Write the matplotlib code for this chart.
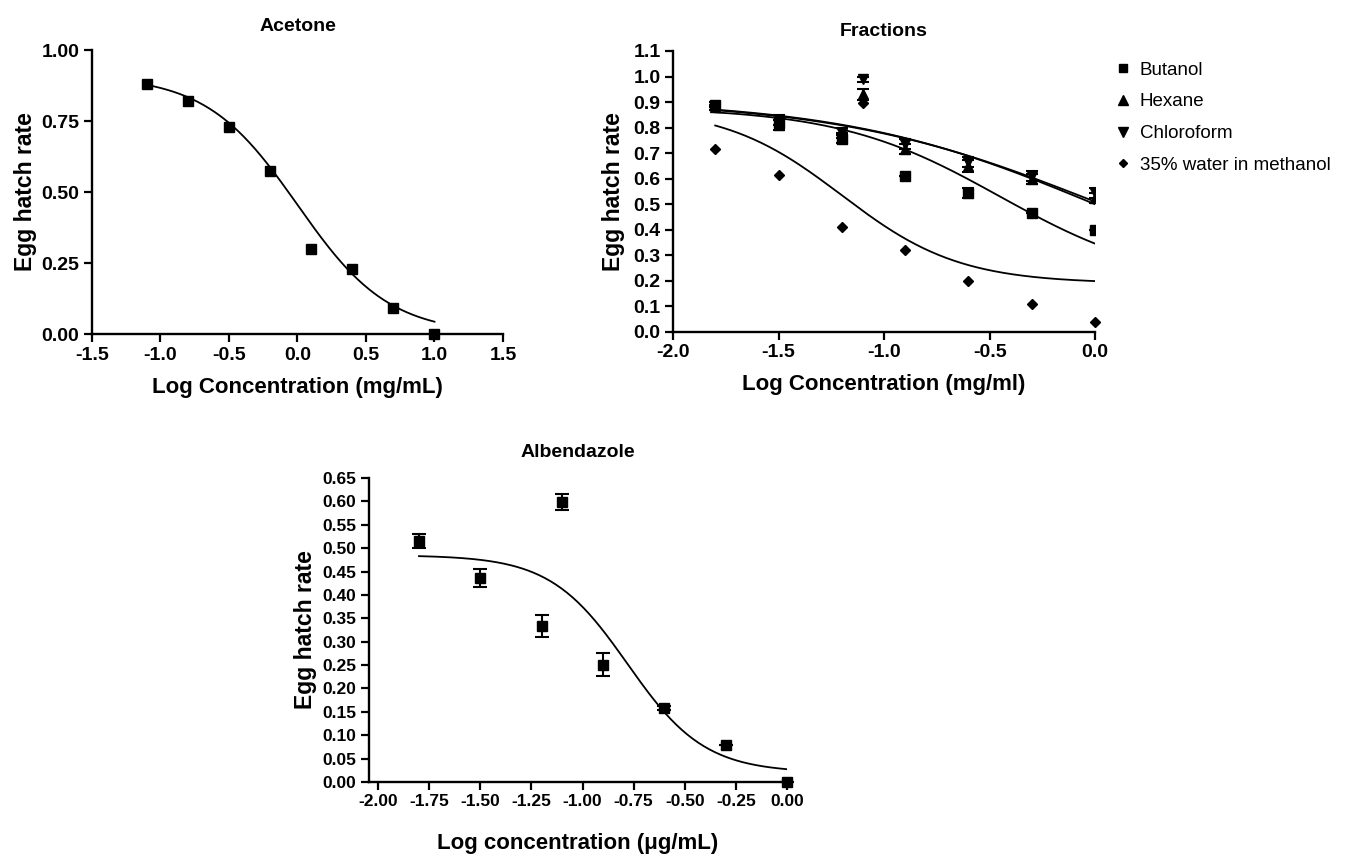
import numpy as np
import matplotlib
matplotlib.use("Agg")
import matplotlib.pyplot as plt
from matplotlib.lines import Line2D

plt.rcParams['font.family'] = ['Liberation Sans', 'DejaVu Sans']
plt.rcParams['axes.unicode_minus'] = False

# ──────────── Datos ────────────
# Acetone
acet_x = [-1.1, -0.8, -0.5, -0.2, 0.1, 0.4, 0.7, 1.0]
acet_y = [0.88, 0.82, 0.73, 0.575, 0.30, 0.23, 0.09, 0.0]
acet_fit = [0.91, 0.0, 0.0, 1.3]          # top, bottom, logEC50, hill

# Fractions
but_x = [-1.8, -1.5, -1.2, -0.9, -0.6, -0.3, 0.0]
but_y = [0.89, 0.82, 0.755, 0.61, 0.545, 0.465, 0.40]
but_err = [0.01, 0.01, 0.015, 0.0, 0.02, 0.0, 0.0]
but_fit = [0.88, 0.18, -0.45, 1.13]

hex_x = [-1.8, -1.5, -1.2, -1.1, -0.9, -0.6, -0.3, 0.0]
hex_y = [0.88, 0.81, 0.76, 0.93, 0.715, 0.65, 0.60, 0.525]
hex_err = [0.01, 0.02, 0.02, 0.02, 0.02, 0.025, 0.02, 0.02]
hex_fit = [0.91, 0.09, 0.0, 0.72]

chl_x = [-1.8, -1.5, -1.2, -1.1, -0.9, -0.6, -0.3, 0.0]
chl_y = [0.88, 0.83, 0.78, 0.99, 0.735, 0.665, 0.61, 0.545]
chl_err = [0.01, 0.02, 0.02, 0.01, 0.02, 0.02, 0.02, 0.02]
chl_fit = [0.91, 0.11, 0.0, 0.70]

met_x = [-1.8, -1.5, -1.2, -1.1, -0.9, -0.6, -0.3, 0.0]
met_y = [0.717, 0.616, 0.41, 0.895, 0.32, 0.20, 0.11, 0.04]
met_fit = [0.88, 0.19, -1.2, 1.56]

# Albendazole
alb_x = [-1.8, -1.5, -1.2, -1.1, -0.9, -0.6, -0.3, 0.0]
alb_y = [0.515, 0.436, 0.333, 0.598, 0.251, 0.158, 0.08, 0.0]
alb_err = [0.015, 0.02, 0.024, 0.017, 0.024, 0.005, 0.0, 0.0]
alb_fit = [0.485, 0.02, -0.78, 2.3]


def logistic(x, top, bottom, logec50, hill):
    return bottom + (top - bottom) / (1 + 10 ** ((x - logec50) * hill))


def curva(ax, xs, params):
    xx = np.linspace(min(xs), max(xs), 200)
    ax.plot(xx, logistic(xx, *params), color='black', lw=1.3, zorder=2)


def estilo(ax, size=14):
    for s in ['top', 'right']:
        ax.spines[s].set_visible(False)
    for s in ['left', 'bottom']:
        ax.spines[s].set_linewidth(1.7)
    ax.tick_params(direction='out', length=6, width=1.6, labelsize=size, pad=3)
    for lab in ax.get_xticklabels() + ax.get_yticklabels():
        lab.set_fontweight('bold')


fig = plt.figure(figsize=(13.58, 8.6), dpi=100)

# ──────────── Acetone ────────────
ax1 = fig.add_axes([0.0677, 0.6116, 0.3027, 0.3302])
curva(ax1, acet_x, acet_fit)
ax1.plot(acet_x, acet_y, 's', color='black', ms=7.5, clip_on=False, zorder=3)
ax1.set_xlim(-1.5, 1.5)
ax1.set_ylim(0, 1.0)
ax1.set_xticks(np.arange(-1.5, 1.51, 0.5))
ax1.set_yticks([0, 0.25, 0.5, 0.75, 1.0])
ax1.set_yticklabels(['0.00', '0.25', '0.50', '0.75', '1.00'])
ax1.set_xticklabels(['-1.5', '-1.0', '-0.5', '0.0', '0.5', '1.0', '1.5'])
estilo(ax1)
ax1.set_title('Acetone', fontsize=14, fontweight='bold', pad=14)
ax1.set_xlabel('Log Concentration (mg/mL)', fontsize=16, fontweight='bold', labelpad=10)
ax1.set_ylabel('Egg hatch rate', fontsize=16.5, fontweight='bold', labelpad=3)

# ──────────── Fractions ────────────
ax2 = fig.add_axes([0.4956, 0.6140, 0.3108, 0.3267])
for xs, fit in [(but_x, but_fit), (hex_x, hex_fit), (chl_x, chl_fit), (met_x, met_fit)]:
    curva(ax2, xs, fit)
ax2.errorbar(met_x, met_y, fmt='D', color='black', ms=5.5, clip_on=False, zorder=3)
ax2.errorbar(hex_x, hex_y, yerr=hex_err, fmt='^', color='black', ms=7.5, capsize=4,
             elinewidth=1.5, capthick=1.5, zorder=3)
ax2.errorbar(chl_x, chl_y, yerr=chl_err, fmt='v', color='black', ms=7.5, capsize=4,
             elinewidth=1.5, capthick=1.5, zorder=3)
ax2.errorbar(but_x, but_y, yerr=but_err, fmt='s', color='black', ms=7, capsize=4,
             elinewidth=1.5, capthick=1.5, zorder=3)
ax2.set_xlim(-2.0, 0.0)
ax2.set_ylim(0, 1.1)
ax2.set_xticks(np.arange(-2.0, 0.01, 0.5))
ax2.set_xticklabels(['-2.0', '-1.5', '-1.0', '-0.5', '0.0'])
ax2.set_yticks(np.arange(0, 1.101, 0.1))
ax2.set_yticklabels([f'{v:.1f}' for v in np.arange(0, 1.101, 0.1)])
estilo(ax2)
ax2.set_title('Fractions', fontsize=14, fontweight='bold', pad=11)
ax2.set_xlabel('Log Concentration (mg/ml)', fontsize=16, fontweight='bold', labelpad=9)
ax2.set_ylabel('Egg hatch rate', fontsize=16.5, fontweight='bold', labelpad=6)

handles = [Line2D([], [], ls='none', marker='s', color='black', ms=6),
           Line2D([], [], ls='none', marker='^', color='black', ms=6.5),
           Line2D([], [], ls='none', marker='v', color='black', ms=6.5),
           Line2D([], [], ls='none', marker='D', color='black', ms=4.5)]
fig.legend(handles, ['Butanol', 'Hexane', 'Chloroform', '35% water in methanol'],
           loc='upper left', bbox_to_anchor=(0.809, 0.948), frameon=False,
           fontsize=13.5, handlelength=0.8, handletextpad=0.5, labelspacing=0.78)

# ──────────── Albendazole ────────────
ax3 = fig.add_axes([0.2718, 0.0907, 0.3077, 0.3535])
curva(ax3, alb_x, alb_fit)
ax3.errorbar(alb_x, alb_y, yerr=alb_err, fmt='s', color='black', ms=7.5, capsize=5,
             elinewidth=1.5, capthick=1.5, zorder=3, clip_on=False)
ax3.set_xlim(-2.044, 0.0)
ax3.set_ylim(0, 0.65)
ax3.set_xticks(np.arange(-2.0, 0.01, 0.25))
ax3.set_xticklabels([f'{v:.2f}' for v in np.arange(-2.0, 0.01, 0.25)])
ax3.set_yticks(np.arange(0, 0.651, 0.05))
ax3.set_yticklabels([f'{v:.2f}' for v in np.arange(0, 0.651, 0.05)])
estilo(ax3, size=12.5)
ax3.set_title('Albendazole', fontsize=14, fontweight='bold', pad=15)
ax3.set_xlabel('Log concentration (μg/mL)', fontsize=16, fontweight='bold', labelpad=17)
ax3.set_ylabel('Egg hatch rate', fontsize=16.5, fontweight='bold', labelpad=4)

fig.savefig('out.png', dpi=100)
